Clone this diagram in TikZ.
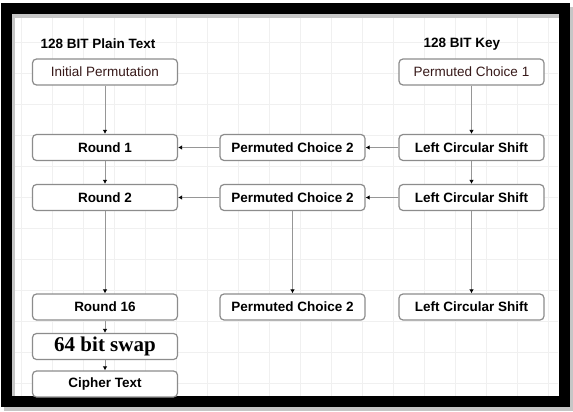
\documentclass[tikz,border=0pt]{standalone}
\usepackage{fontspec}
\setmainfont{Liberation Sans}
\newfontfamily\swapfont{Liberation Serif}
\usetikzlibrary{arrows.meta}
\definecolor{BoxLine}{RGB}{140,140,140}
\definecolor{ArrLine}{RGB}{150,150,150}
\definecolor{GridLine}{RGB}{240,240,240}
\definecolor{PlainTxt}{RGB}{55,25,25}
\tikzset{
  nd_box/.style={
    rectangle, rounded corners=4pt,
    draw=BoxLine, line width=1.2pt, fill=white,
    minimum width=145pt, minimum height=26pt, inner sep=0pt,
    font=\fontsize{13.5}{15}\selectfont\bfseries},
  nd_plain/.style={
    nd_box, font=\fontsize{13.5}{15}\selectfont, text=PlainTxt},
  nd_swap/.style={
    nd_box, font=\fontsize{21}{23}\selectfont\swapfont\bfseries},
  nd_head/.style={
    font=\fontsize{13.5}{15}\selectfont\bfseries, inner sep=0pt},
  arr/.style={draw=ArrLine, line width=1pt,
    -{Latex[length=4pt,width=4.5pt,color=black]}},
}
\begin{document}
\begin{tikzpicture}[x=1pt,y=-1pt]
\useasboundingbox (0,0) rectangle (573,412);
\fill[white] (0,0) rectangle (573,412);
% background grid
\foreach \gx in {21,52,...,552} \draw[GridLine,line width=0.6pt] (\gx,14) -- (\gx,397);
\foreach \gy in {42,73,...,390} \draw[GridLine,line width=0.6pt] (11,\gy) -- (558,\gy);
% frame with shadow
\draw[gray!45,line width=11pt] (9,13) rectangle (567,405);
\draw[black,line width=11pt] (6,9) rectangle (564,401.5);

% headings
\node[nd_head] (ptxt) at (98,44) {128 BIT Plain Text};
\node[nd_head] (ktxt) at (462,44) {128 BIT Key};

% data path
\node[nd_plain] (ip) at (105,72) {Initial Permutation};
\node[nd_box] (r1) at (105,147.5) {Round 1};
\node[nd_box] (r2) at (105,197.5) {Round 2};
\node[nd_box] (r16) at (105,307) {Round 16};
\node[nd_swap] (swap) at (105,346.5) {64 bit swap};
\node[nd_box] (ct) at (105,384) {Cipher Text};

% sub keys
\node[nd_box] (pc2a) at (292.5,147.5) {Permuted Choice 2};
\node[nd_box] (pc2b) at (292.5,197.5) {Permuted Choice 2};
\node[nd_box] (pc2c) at (292.5,307) {Permuted Choice 2};

% key path
\node[nd_plain] (pc1) at (471.5,72) {Permuted Choice 1};
\node[nd_box] (lcs1) at (471.5,147.5) {Left Circular Shift};
\node[nd_box] (lcs2) at (471.5,197.5) {Left Circular Shift};
\node[nd_box] (lcs3) at (471.5,307) {Left Circular Shift};

\draw[arr] (ip) -- (r1);
\draw[arr] (r1) -- (r2);
\draw[arr] (r2) -- (r16);
\draw[arr] (r16) -- (swap);
\draw[arr] (swap) -- (ct);
\draw[arr] (pc1) -- (lcs1);
\draw[arr] (lcs1) -- (lcs2);
\draw[arr] (lcs2) -- (lcs3);
\draw[arr] (lcs1) -- (pc2a);
\draw[arr] (pc2a) -- (r1);
\draw[arr] (lcs2) -- (pc2b);
\draw[arr] (pc2b) -- (r2);
\draw[arr] (pc2b) -- (pc2c);
\end{tikzpicture}
\end{document}
